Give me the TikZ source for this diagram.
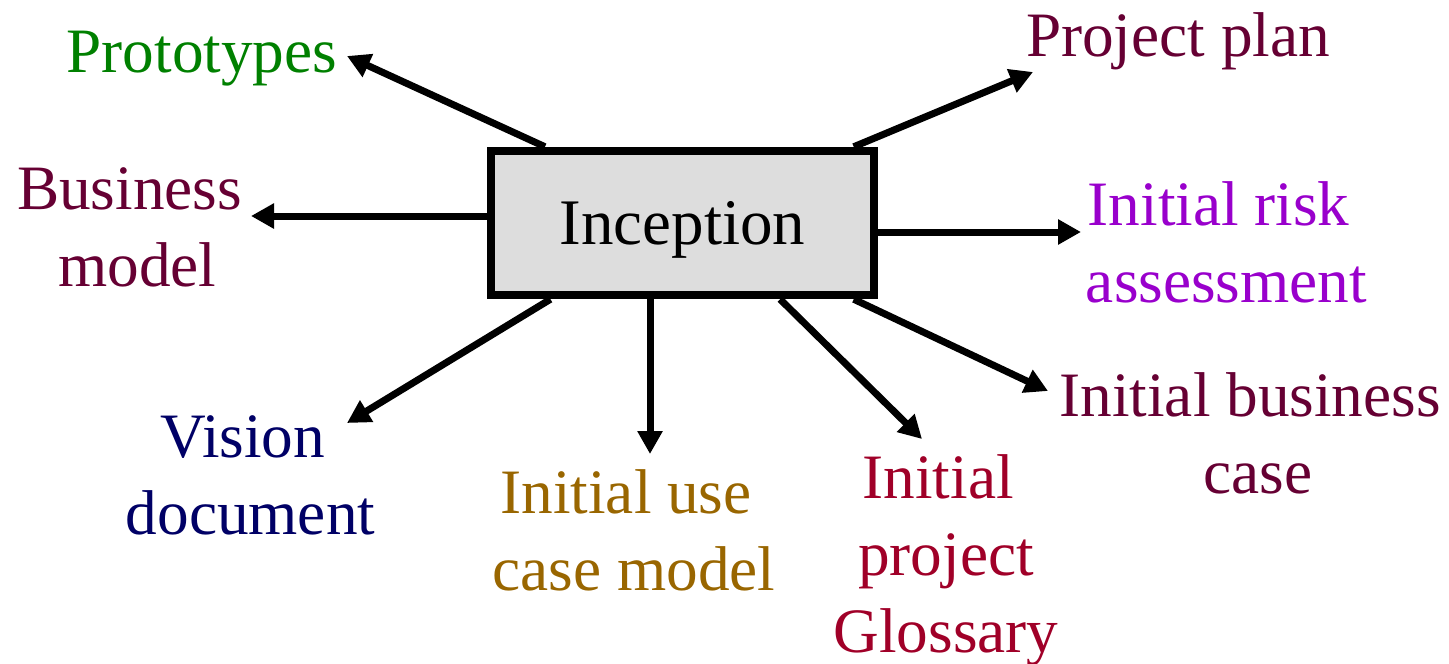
\documentclass[tikz,border=0pt]{standalone}
\usepackage{fontspec}
\setmainfont{Liberation Serif}
\usetikzlibrary{arrows.meta}

\definecolor{protogreen}{HTML}{008000}
\definecolor{wine}{HTML}{660033}
\definecolor{violet}{HTML}{9900CC}
\definecolor{navy}{HTML}{000066}
\definecolor{ochre}{HTML}{996600}
\definecolor{crimson}{HTML}{A00028}
\definecolor{boxgray}{HTML}{DDDDDD}

\begin{document}
\begin{tikzpicture}[x=0.02cm, y=-0.02cm,
	lbl/.style={inner sep=0pt, align=center, anchor=base, font=\fontsize{36}{43.7}\selectfont},
	arr/.style={line width=0.14cm, -{Triangle[length=4.6mm, width=4.8mm]}}]
	\useasboundingbox (0,0) rectangle (1449,663);
	\node[draw, line width=0.16cm, fill=boxgray, minimum width=7.66cm, minimum height=2.89cm,
		text depth=0pt, font=\fontsize{37}{45}\selectfont] (box) at (682.5,223) {Inception};
	% outputs (base = last line)
	\node[lbl, protogreen] (proto) at (202,72) {Prototypes};
	\node[lbl, wine] (bmodel) at (137.5,286) {Business\kern.25em\\model};
	\node[lbl, wine] (plan) at (1178,56) {Project plan};
	\node[lbl, violet] (risk) at (1226.5,302) {Initial risk\kern.25em\\assessment};
	\node[lbl, wine] (bcase) at (1258,493) {Initial business\kern.25em\\case};
	\node[lbl, navy] (vision) at (250.5,534) {Vision\kern.25em\\document};
	\node[lbl, ochre] (ucase) at (634,590) {Initial use\kern.25em\\case model};
	\node[lbl, crimson] (gloss) at (946,652) {Initial\kern.25em\\project\\Glossary};
	% arrow tips
	\coordinate (protoT) at (347,56);
	\coordinate (bmodelT) at (251,216);
	\coordinate (planT) at (1033,72);
	\coordinate (riskT) at (1081,232);
	\coordinate (bcaseT) at (1048,391);
	\coordinate (glossT) at (922,439);
	\coordinate (ucaseT) at (650,454);
	\coordinate (visionT) at (347,423);
	\foreach \a/\t in {151.8/protoT, 24.5/planT, 336.9/bcaseT, 322/glossT, 210.9/visionT}
		\draw[arr] (box.\a) -- (\t);
	\draw[arr] (box.west |- bmodelT) -- (bmodelT);
	\draw[arr] (box.east |- riskT) -- (riskT);
	\draw[arr] (box.south -| ucaseT) -- (ucaseT);
\end{tikzpicture}
\end{document}
